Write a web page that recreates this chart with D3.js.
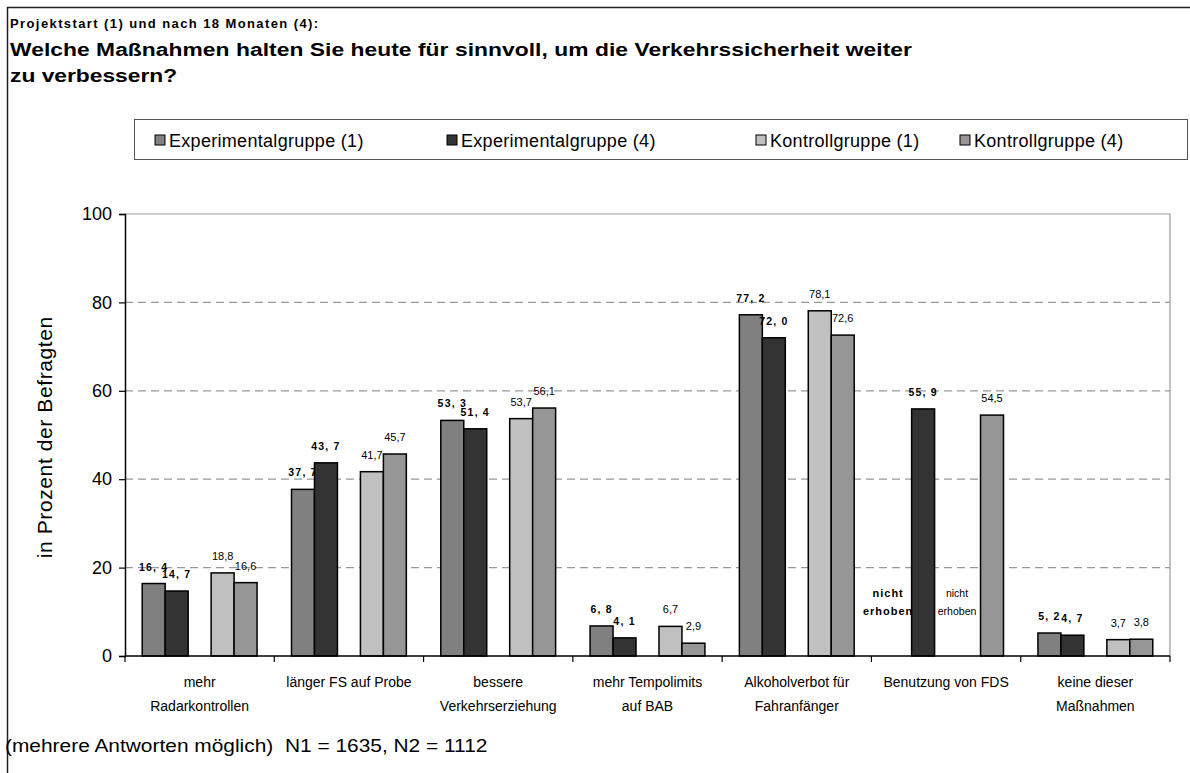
<!DOCTYPE html>
<html>
<head>
<meta charset="utf-8">
<script src="https://cdn.jsdelivr.net/npm/d3@7"></script>
<style>
  html, body { margin: 0; background: #fff; overflow: hidden; }
  svg { display: block; }
  svg text { font-family: Arial, "Liberation Sans", sans-serif; fill: #000; }
</style>
</head>
<body>
<svg id="chart" width="1190" height="773"></svg>
<script>
// Werte aus der Vorlage (in Prozent), null = nicht erhoben
var categories = [
  ['mehr', 'Radarkontrollen'],
  ['länger FS auf Probe'],
  ['bessere', 'Verkehrserziehung'],
  ['mehr Tempolimits', 'auf BAB'],
  ['Alkoholverbot für', 'Fahranfänger'],
  ['Benutzung von FDS'],
  ['keine dieser', 'Maßnahmen']
];
var seriesNames = ['Experimentalgruppe (1)', 'Experimentalgruppe (4)', 'Kontrollgruppe (1)', 'Kontrollgruppe (4)'];
var exp1 = [16.4, 37.7, 53.3, 6.8, 77.2, null, 5.2];
var exp4 = [14.7, 43.7, 51.4, 4.1, 72.0, 55.9, 4.7];
var kon1 = [18.8, 41.7, 53.7, 6.7, 78.1, null, 3.7];
var kon4 = [16.6, 45.7, 56.1, 2.9, 72.6, 54.5, 3.8];
var yTicks = [0, 20, 40, 60, 80, 100];

var colors = ['#808080', '#333333', '#c0c0c0', '#969696'];
var seriesValues = [exp1, exp4, kon1, kon4];
// slot 'leer' is the empty column between the two groups
var slots = ['e1', 'e4', 'leer', 'k1', 'k4'];
var seriesSlot = ['e1', 'e4', 'k1', 'k4'];

var svg = d3.select('#chart');
var margin = {left: 125, right: 1170, top: 214, bottom: 656};

// outer frame (only left and top edges are inside the picture)
svg.append('path')
  .attr('d', 'M7.5,800V7.5H1300')
  .attr('fill', 'none').attr('stroke', '#222').attr('stroke-width', 1.5);

// titles
svg.append('text').attr('x', 10).attr('y', 28)
  .style('font-size', '13px').style('font-weight', 'bold').style('letter-spacing', '1.4px')
  .text('Projektstart (1) und nach 18 Monaten (4):');
svg.append('text').attr('transform', 'translate(10,56) scale(1.2,1)')
  .style('font-size', '19px').style('font-weight', 'bold').style('letter-spacing', '0.05px')
  .text('Welche Maßnahmen halten Sie heute für sinnvoll, um die Verkehrssicherheit weiter');
svg.append('text').attr('transform', 'translate(10,82) scale(1.2,1)')
  .style('font-size', '19px').style('font-weight', 'bold')
  .text('zu verbessern?');

// legend
svg.append('rect')
  .attr('x', 134.5).attr('y', 119.5).attr('width', 1053).attr('height', 40)
  .attr('fill', '#fff').attr('stroke', '#555').attr('stroke-width', 1);

var legendX = [155, 447, 756, 960];
var legend = svg.append('g').selectAll('g')
  .data(seriesNames)
  .join('g')
  .attr('transform', function(d, i) { return 'translate(' + legendX[i] + ',140)'; });
legend.append('rect')
  .attr('x', 0).attr('y', -5).attr('width', 10).attr('height', 10)
  .attr('fill', function(d, i) { return colors[i]; })
  .attr('stroke', '#000').attr('stroke-width', 1);
legend.append('text')
  .attr('x', 14).attr('y', 6.5)
  .style('font-size', '18px').style('letter-spacing', '0.3px')
  .text(function(d) { return d; });

// scales
var x0 = d3.scaleBand()
  .domain(d3.range(categories.length))
  .range([margin.left, margin.right])
  .padding(0);

var x1 = d3.scaleBand()
  .domain(slots)
  .range([0, x0.bandwidth()])
  .paddingInner(0)
  .paddingOuter(0.75);

var y = d3.scaleLinear()
  .domain([0, 100])
  .range([margin.bottom, margin.top]);

// plot frame (top and right, light gray)
svg.append('path')
  .attr('d', 'M' + margin.left + ',' + y(100) + 'H' + margin.right + 'V' + y(0))
  .attr('fill', 'none').attr('stroke', '#999').attr('stroke-width', 1.2);

// gridlines
svg.append('g').selectAll('line')
  .data(yTicks.filter(function(d) { return d > 0 && d < 100; }))
  .join('line')
  .attr('x1', margin.left).attr('x2', margin.right)
  .attr('y1', function(d) { return y(d); }).attr('y2', function(d) { return y(d); })
  .attr('stroke', '#999').attr('stroke-width', 1.2)
  .attr('stroke-dasharray', '8,5');

// bars
var groups = svg.append('g').selectAll('g')
  .data(categories)
  .join('g')
  .attr('transform', function(d, i) { return 'translate(' + x0(i) + ',0)'; });

var cells = groups.selectAll('g')
  .data(function(d, i) {
    return seriesValues.map(function(vals, s) {
      return {s: s, v: vals[i]};
    });
  })
  .join('g');

cells.filter(function(d) { return d.v != null; })
  .append('rect')
  .attr('x', function(d) { return x1(seriesSlot[d.s]); })
  .attr('y', function(d) { return y(d.v); })
  .attr('width', x1.bandwidth())
  .attr('height', function(d) { return y(0) - y(d.v); })
  .attr('fill', function(d) { return colors[d.s]; })
  .attr('stroke', '#000').attr('stroke-width', 1.5);

var fmt = function(v) { return d3.format('.1f')(v).replace('.', ','); };

// value labels: experimental groups bold, control groups plain
cells.filter(function(d) { return d.v != null; })
  .append('text')
  .attr('x', function(d) { return x1(seriesSlot[d.s]) + x1.bandwidth() / 2; })
  .attr('y', function(d) { return y(d.v) - 13; })
  .attr('text-anchor', 'middle')
  .style('font-size', function(d) { return d.s < 2 ? '10.5px' : '11px'; })
  .style('font-weight', function(d) { return d.s < 2 ? 'bold' : 'normal'; })
  .style('letter-spacing', function(d) { return d.s < 2 ? '1.2px' : '0px'; })
  .text(function(d) { return d.s < 2 ? fmt(d.v).replace(',', ', ') : fmt(d.v); });

// missing values
var missing = cells.filter(function(d) { return d.v == null; })
  .append('text')
  .attr('text-anchor', 'middle')
  .attr('transform', function(d) {
    return 'translate(' + (x1(seriesSlot[d.s]) + x1.bandwidth() / 2 - 12) + ',' + (y(14) + 3) + ')';
  })
  .style('font-size', function(d) { return d.s < 2 ? '11px' : '10.5px'; })
  .style('font-weight', function(d) { return d.s < 2 ? 'bold' : 'normal'; })
  .style('letter-spacing', function(d) { return d.s < 2 ? '1px' : '0px'; });
missing.append('tspan').attr('x', 0).attr('dy', 0).text('nicht');
missing.append('tspan').attr('x', 0).attr('dy', 18).text('erhoben');

// y axis
var yAxis = svg.append('g')
  .attr('transform', 'translate(' + margin.left + ',0)')
  .call(d3.axisLeft(y).tickValues(yTicks).tickSize(6).tickPadding(7));
yAxis.select('.domain').attr('stroke', '#000').attr('stroke-width', 1.5);
yAxis.selectAll('.tick line').attr('stroke', '#000').attr('stroke-width', 1.2);
yAxis.selectAll('.tick text').style('font-size', '18px').style('font-family', 'Arial, "Liberation Sans", sans-serif');

// x axis with ticks at category boundaries
var boundaries = d3.range(categories.length + 1).map(function(i) {
  return i < categories.length ? x0(i) : x0(i - 1) + x0.bandwidth();
});
svg.append('line')
  .attr('x1', margin.left).attr('x2', margin.right)
  .attr('y1', y(0)).attr('y2', y(0))
  .attr('stroke', '#000').attr('stroke-width', 1.5);
svg.append('g').selectAll('line')
  .data(boundaries)
  .join('line')
  .attr('x1', function(d) { return d; }).attr('x2', function(d) { return d; })
  .attr('y1', y(0)).attr('y2', y(0) + 6)
  .attr('stroke', '#000').attr('stroke-width', 1.2);

// category labels
var catLabels = svg.append('g').selectAll('text')
  .data(categories)
  .join('text')
  .attr('text-anchor', 'middle')
  .attr('transform', function(d, i) { return 'translate(' + (x0(i) + x0.bandwidth() / 2) + ',' + (y(0) + 31) + ')'; })
  .style('font-size', '14px');
catLabels.selectAll('tspan')
  .data(function(d) { return d; })
  .join('tspan')
  .attr('x', 0)
  .attr('dy', function(d, i) { return i === 0 ? 0 : 24; })
  .text(function(d) { return d; });

// y axis title
svg.append('text')
  .attr('transform', 'translate(52,' + y(49.5) + ') rotate(-90)')
  .attr('text-anchor', 'middle')
  .style('font-size', '21px').style('letter-spacing', '0.6px')
  .text('in Prozent der Befragten');

// footnote
svg.append('text')
  .attr('transform', 'translate(5,752) scale(1.1,1)')
  .style('font-size', '19px').style('white-space', 'pre')
  .text('(mehrere Antworten möglich)  N1 = 1635, N2 = 1112');
</script>
</body>
</html>
